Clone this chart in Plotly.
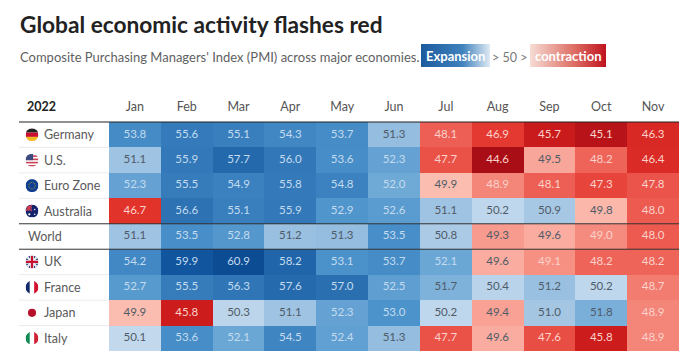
import base64
import plotly.graph_objects as go

months = ["Jan", "Feb", "Mar", "Apr", "May", "Jun", "Jul", "Aug", "Sep", "Oct", "Nov"]
regions = ["Germany", "U.S.", "Euro Zone", "Australia", "World", "UK", "France", "Japan", "Italy"]
germany = [53.8, 55.6, 55.1, 54.3, 53.7, 51.3, 48.1, 46.9, 45.7, 45.1, 46.3]
us = [51.1, 55.9, 57.7, 56.0, 53.6, 52.3, 47.7, 44.6, 49.5, 48.2, 46.4]
euro_zone = [52.3, 55.5, 54.9, 55.8, 54.8, 52.0, 49.9, 48.9, 48.1, 47.3, 47.8]
australia = [46.7, 56.6, 55.1, 55.9, 52.9, 52.6, 51.1, 50.2, 50.9, 49.8, 48.0]
world = [51.1, 53.5, 52.8, 51.2, 51.3, 53.5, 50.8, 49.3, 49.6, 49.0, 48.0]
uk = [54.2, 59.9, 60.9, 58.2, 53.1, 53.7, 52.1, 49.6, 49.1, 48.2, 48.2]
france = [52.7, 55.5, 56.3, 57.6, 57.0, 52.5, 51.7, 50.4, 51.2, 50.2, 48.7]
japan = [49.9, 45.8, 50.3, 51.1, 52.3, 53.0, 50.2, 49.4, 51.0, 51.8, 48.9]
italy = [50.1, 53.6, 52.1, 54.5, 52.4, 51.3, 47.7, 49.6, 47.6, 45.8, 48.9]
values = [germany, us, euro_zone, australia, world, uk, france, japan, italy]

W, H = 693, 360
X0, X1, Y0, Y1 = 109, 679, 122, 351
FONT = "Lato"
px = lambda x: x / W
py = lambda y: 1 - y / H

zmin, zmax = 44.6, 60.9
stops = [(44.6, "#a90d15"), (45.8, "#cc1c1c"), (46.7, "#e2332b"), (48.0, "#ec5a50"), (49.0, "#f58a7e"),
         (49.95, "#fbc0b2"), (50.05, "#c4daee"), (51.0, "#a4c6e3"), (52.0, "#6fa9d6"), (53.0, "#4c93cb"),
         (55.0, "#3a80bf"), (57.0, "#2a6fb0"), (59.9, "#11559f"), (60.9, "#0b4c93")]
colorscale = [[(v - zmin) / (zmax - zmin), c] for v, c in stops]


def text_color(v):
    if v >= 51.95:
        return "#c3dbef"
    if v <= 49.15:
        return "#fbd2cb"
    return "#4f5b68"


fig = go.Figure()
fig.add_trace(go.Heatmap(z=values, x=months, y=regions, zmin=zmin, zmax=zmax, colorscale=colorscale,
                         showscale=False, hoverinfo="skip", xgap=0, ygap=0))
flat_x = [m for _ in regions for m in months]
flat_y = [r for r in regions for _ in months]
flat_v = [v for row in values for v in row]
fig.add_trace(go.Scatter(x=flat_x, y=flat_y, mode="text", text=[f"{v:.1f}" for v in flat_v],
                         textfont=dict(family=FONT, size=11.5, color=[text_color(v) for v in flat_v]),
                         textposition="middle center", hoverinfo="skip", showlegend=False))


def svg_uri(body, w=24, h=24):
    svg = f'<svg xmlns="http://www.w3.org/2000/svg" width="{w}" height="{h}" viewBox="0 0 {w} {h}">{body}</svg>'
    return "data:image/svg+xml;base64," + base64.b64encode(svg.encode()).decode()


clip = '<defs><clipPath id="c"><circle cx="12" cy="12" r="12"/></clipPath></defs><g clip-path="url(#c)">'
flags = {
    "Germany": '<rect width="24" height="8" fill="#222"/><rect y="8" width="24" height="8" fill="#c8102e"/><rect y="16" width="24" height="8" fill="#f5b921"/>',
    "U.S.": '<rect width="24" height="24" fill="#fff"/><rect y="3" width="24" height="3" fill="#c9455a"/><rect y="9" width="24" height="3" fill="#c9455a"/><rect y="15" width="24" height="3" fill="#c9455a"/><rect y="21" width="24" height="3" fill="#c9455a"/><rect width="14" height="12" fill="#3c4a80"/>',
    "Euro Zone": '<rect width="24" height="24" fill="#103f91"/><circle cx="12" cy="12" r="6" fill="none" stroke="#6c7f60" stroke-width="2" stroke-dasharray="2 1.2"/>',
    "Australia": '<rect width="24" height="24" fill="#14246b"/><rect width="12" height="12" fill="#3b3f80"/><path d="M0 0L12 12M12 0L0 12M6 0V12M0 6H12" stroke="#d0384c" stroke-width="2"/><circle cx="17" cy="9" r="1.3" fill="#fff"/><circle cx="17" cy="18" r="1.3" fill="#fff"/><circle cx="7" cy="18" r="2" fill="#fff"/>',
    "UK": '<rect width="24" height="24" fill="#2a3f80"/><path d="M0 0L24 24M24 0L0 24" stroke="#eee" stroke-width="4"/><path d="M12 0V24M0 12H24" stroke="#eee" stroke-width="7"/><path d="M12 0V24M0 12H24" stroke="#c8102e" stroke-width="4"/>',
    "France": '<rect width="8" height="24" fill="#13296b"/><rect x="8" width="8" height="24" fill="#fff"/><rect x="16" width="8" height="24" fill="#d3102e"/>',
    "Japan": '<rect width="24" height="24" fill="#fff"/><circle cx="12" cy="12" r="7.5" fill="#b5112b"/>',
    "Italy": '<rect width="8" height="24" fill="#0f8a50"/><rect x="8" width="8" height="24" fill="#fff"/><rect x="16" width="8" height="24" fill="#cf2034"/>',
}
rh = (Y1 - Y0) / len(regions)
images = []
annotations = []
for i, r in enumerate(regions):
    yc = Y0 + rh * (i + 0.5)
    lx = 26 if r == "World" else 42
    annotations.append(dict(x=px(lx), y=r, xref="paper", yref="y", text=r, showarrow=False, xanchor="left",
                            yanchor="middle", font=dict(family=FONT, size=12.5, color="#5a5a5a")))
    if r in flags:
        images.append(dict(source=svg_uri(clip + flags[r] + "</g>"), xref="paper", yref="paper", x=px(32), y=py(yc),
                           sizex=13 / W, sizey=13 / H, xanchor="center", yanchor="middle", sizing="contain", layer="above"))


def grad(c1, c2, c3, w=60, h=24):
    return svg_uri(f'<defs><linearGradient id="g"><stop offset="0" stop-color="{c1}"/><stop offset="0.6" stop-color="{c3}"/>'
                   f'<stop offset="1" stop-color="{c2}"/></linearGradient></defs><rect width="{w}" height="{h}" fill="url(#g)"/>', w, h)


images.append(dict(source=grad("#1c5a9e", "#dfeaf4", "#3f82bd"), xref="paper", yref="paper", x=px(421), y=py(44),
                   sizex=69 / W, sizey=23 / H, xanchor="left", yanchor="top", sizing="stretch", layer="below"))
images.append(dict(source=grad("#f6dcd4", "#c0131f", "#dd6a60"), xref="paper", yref="paper", x=px(530), y=py(44),
                   sizex=76 / W, sizey=23 / H, xanchor="left", yanchor="top", sizing="stretch", layer="below"))


def note(text, x, y, size, color, bold=False, anchor="left"):
    annotations.append(dict(x=px(x), y=py(y), xref="paper", yref="paper", text=f"<b>{text}</b>" if bold else text,
                            showarrow=False, xanchor=anchor, yanchor="middle",
                            font=dict(family=FONT, size=size, color=color), borderpad=0))


note("Global economic activity flashes red", 19, 25, 22.7, "#222222", True)
note("Composite Purchasing Managers' Index (PMI) across major economies.", 19, 57, 13, "#5f5f5f")
note("Expansion", 455, 56, 13, "#ffffff", True, "center")
note("&gt; 50 &gt;", 509, 57, 12.5, "#777777", False, "center")
note("contraction", 568, 56, 13, "#ffffff", True, "center")
note("2022", 26, 106, 12.5, "#222222", True)

shapes = []
for y, col in [(Y0, "#222222"), (Y0 + rh * 4, "#333333"), (Y0 + rh * 5, "#333333")]:
    shapes.append(dict(type="line", xref="paper", yref="paper", x0=px(19), x1=px(X1), y0=py(y), y1=py(y),
                       line=dict(color=col, width=1), layer="above"))
for i in [1, 2, 3, 6, 7, 8]:
    y = Y0 + rh * i
    shapes.append(dict(type="line", xref="paper", yref="paper", x0=px(19), x1=px(X0), y0=py(y), y1=py(y),
                       line=dict(color="#ececec", width=1), layer="below"))

fig.update_layout(
    width=W, height=H, margin=dict(l=0, r=0, t=0, b=0), paper_bgcolor="white", plot_bgcolor="white",
    xaxis=dict(domain=[px(X0), px(X1)], side="top", type="category", categoryorder="array", categoryarray=months,
               range=[-0.5, 10.5], showgrid=False, zeroline=False, showline=False, ticks="outside", ticklen=5,
               tickcolor="rgba(0,0,0,0)", tickfont=dict(family=FONT, size=12.5, color="#555555")),
    yaxis=dict(domain=[py(Y1), py(Y0)], type="category", categoryorder="array", categoryarray=regions,
               range=[8.5, -0.5], showgrid=False, zeroline=False, showticklabels=False, ticks=""),
    images=images, annotations=annotations, shapes=shapes, showlegend=False,
)
fig.write_html("out.html", post_script="document.body.style.margin='0';", config={"displayModeBar": False})
